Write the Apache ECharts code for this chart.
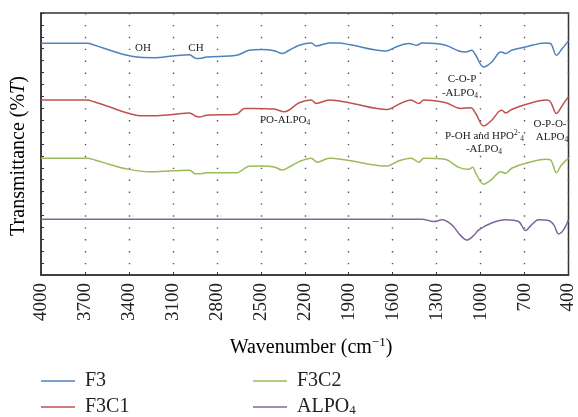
<!DOCTYPE html>
<html>
<head>
<meta charset="utf-8">
<script src="https://cdn.jsdelivr.net/npm/echarts@6/dist/echarts.min.js"></script>
<style>
html,body{margin:0;padding:0;background:#fff;}
#chart{width:578px;height:417px;}
</style>
</head>
<body>
<div id="chart"></div>
<script>
// ---- data (wavenumber in cm^-1, transmittance in arbitrary offset units) ----
var xTicks = [4000, 3700, 3400, 3100, 2800, 2500, 2200, 1900, 1600, 1300, 1000, 700, 400];

var f3Wn = [4000,3687,3633,3530,3428,3326,3224,3102,2986,2945,2918,2870,2666,2578,2496,2408,2353,2306,2238,2156,2122,2033,1965,1897,1646,1577,1489,1435,1400,1305,1237,1149,1101,1060,1033,979,924,877,856,829,788,693,557,523,482,448,400];
var f3T  = [19.46,19.46,19.29,18.87,18.49,18.28,18.25,18.39,18.49,18.19,18.17,18.30,18.45,18.87,18.93,18.83,18.59,18.87,19.29,19.49,19.23,19.49,19.49,19.35,18.81,19.15,19.44,19.29,19.49,19.44,19.29,18.81,18.73,18.87,18.45,17.46,17.88,18.64,18.73,18.59,18.87,19.15,19.49,19.44,18.45,18.93,19.66];

var f3c1Wn = [4000,3687,3633,3530,3428,3326,3224,3102,2986,2945,2918,2870,2666,2612,2544,2408,2340,2238,2156,2122,2033,1897,1639,1557,1475,1421,1387,1237,1135,1067,1033,979,924,877,856,829,788,693,550,523,482,448,414,400];
var f3c1T  = [14.69,14.69,14.52,14.10,13.67,13.38,13.38,13.48,13.61,13.33,13.27,13.42,13.50,13.99,13.99,13.93,13.70,14.46,14.69,14.41,14.69,14.46,13.90,14.35,14.69,14.41,14.69,14.46,13.99,14.04,13.56,12.51,13.00,13.70,13.84,13.61,13.90,14.32,14.69,14.54,13.56,14.12,14.75,14.92];

var f3c2Wn = [4000,3687,3633,3530,3428,3258,3102,2986,2945,2918,2870,2666,2578,2496,2408,2353,2306,2238,2156,2115,2033,1918,1639,1557,1475,1421,1387,1244,1149,1081,1053,1033,979,924,863,829,788,693,557,523,482,448,400];
var f3c2T  = [9.81,9.81,9.66,9.28,8.94,8.67,8.75,8.79,8.50,8.50,8.59,8.59,9.13,9.15,9.07,8.82,9.07,9.52,9.81,9.47,9.81,9.66,9.15,9.60,9.81,9.47,9.81,9.72,9.04,8.87,9.04,8.54,7.63,8.03,8.67,8.54,8.96,9.38,9.72,9.66,8.59,9.24,9.81];

var alpo4Wn = [4000,3500,3000,2500,2000,1600,1400,1319,1264,1196,1140,1094,1050,1012,924,829,741,693,652,604,536,500,468,434,400];
var alpo4T  = [4.69,4.69,4.69,4.68,4.69,4.69,4.69,4.49,4.63,4.21,3.37,2.94,3.28,3.79,4.36,4.63,4.49,3.73,4.21,4.63,4.58,4.21,3.45,3.79,4.63];

var seriesNames = ['F3', 'F3C1', 'F3C2', 'ALPO4'];
var seriesColors = ['#4F81BD', '#C0504D', '#9BBB59', '#8064A2'];

function zip(a, b) { return a.map(function (v, i) { return [v, b[i]]; }); }
var allData = [zip(f3Wn, f3T), zip(f3c1Wn, f3c1T), zip(f3c2Wn, f3c2T), zip(alpo4Wn, alpo4T)];

var SERIF = '"Liberation Serif", "DejaVu Serif", serif';
var TXT = '#222';

var annRich = {
  a: { fontFamily: SERIF, fontSize: 11, color: TXT, lineHeight: 14 },
  sub: { fontFamily: SERIF, fontSize: 7.5, color: TXT, lineHeight: 8, verticalAlign: 'bottom' },
  sup: { fontFamily: SERIF, fontSize: 7.5, color: TXT, lineHeight: 8, verticalAlign: 'top' }
};
function ann(text, x, y, align) {
  return {
    type: 'text', x: x, y: y, z: 10,
    style: { text: text, rich: annRich, align: align || 'center', verticalAlign: 'middle',
             font: '11px ' + SERIF, fill: TXT }
  };
}

var legendBase = {
  orient: 'vertical', top: 371, height: 46, padding: 0, itemWidth: 34, itemHeight: 1.6, itemGap: 6, icon: 'rect',
  formatter: function (n) { return n === 'ALPO4' ? '{n|ALPO}{s|4}' : '{n|' + n + '}'; },
  textStyle: { fontFamily: SERIF, fontSize: 20, color: TXT, padding: [0, 0, 0, 5],
    rich: { n: { fontFamily: SERIF, fontSize: 20, color: TXT, lineHeight: 20 },
            s: { fontFamily: SERIF, fontSize: 13, color: TXT, lineHeight: 9, verticalAlign: 'bottom' } } }
};

var chart = echarts.init(document.getElementById('chart'));
var option = {
  animation: false,
  backgroundColor: '#fff',
  grid: { left: 41, right: 8, top: 13, bottom: 142, show: true, borderColor: '#333', borderWidth: 1.5, backgroundColor: 'transparent' },
  xAxis: {
    type: 'value', min: 400, max: 4000, interval: 300, inverse: true,
    axisLine: { show: true, lineStyle: { color: '#333', width: 1.5 } },
    axisTick: { show: true, inside: true, length: 3, lineStyle: { color: '#333' } },
    axisLabel: { rotate: 90, fontFamily: SERIF, fontSize: 19, color: TXT, margin: 8,
                 formatter: function (v) { return String(v); } },
    splitLine: { show: true, lineStyle: { color: '#555', width: 1.4, type: [1.4, 10.5] } }
  },
  yAxis: {
    type: 'value', min: 0, max: 22, interval: 1,
    axisLine: { show: true, lineStyle: { color: '#333', width: 1.5 } },
    axisTick: { show: true, inside: true, length: 3, lineStyle: { color: '#333' } },
    axisLabel: { show: false },
    splitLine: { show: false }
  },
  legend: [
    Object.assign({}, legendBase, { data: ['F3', 'F3C1'], left: 41 }),
    Object.assign({}, legendBase, { data: ['F3C2', 'ALPO4'], left: 253 })
  ],
  series: seriesNames.map(function (n, i) {
    return { name: n, type: 'line', data: allData[i], symbol: 'none', smooth: 0.35,
             lineStyle: { color: seriesColors[i], width: 1.5 }, itemStyle: { color: seriesColors[i] } };
  }),
  graphic: [
    { type: 'text', x: 311, y: 348, style: {
        text: '{a|Wavenumber (cm}{s|−1}{a|)}', align: 'center', verticalAlign: 'middle',
        rich: { a: { fontFamily: SERIF, fontSize: 20, color: TXT, lineHeight: 24 },
                s: { fontFamily: SERIF, fontSize: 13, color: TXT, lineHeight: 12, verticalAlign: 'top' } } } },
    { type: 'text', x: 19, y: 156, rotation: Math.PI / 2, style: {
        text: '{a|Transmittance (%}{i|T}{a|)}', align: 'center', verticalAlign: 'middle',
        rich: { a: { fontFamily: SERIF, fontSize: 20, color: TXT },
                i: { fontFamily: SERIF, fontSize: 20, color: TXT, fontStyle: 'italic' } } } },
    ann('{a|OH}', 143, 48),
    ann('{a|CH}', 196, 48),
    ann('{a|PO-ALPO}{sub|4}', 260, 120, 'left'),
    ann('{a|C-O-P}', 462, 79),
    ann('{a|-ALPO}{sub|4}', 460, 93),
    ann('{a|P-OH and HPO}{sup|2-}{sub|4}', 445, 136, 'left'),
    ann('{a|-ALPO}{sub|4}', 484, 149),
    ann('{a|O-P-O-}', 550, 124),
    ann('{a|ALPO}{sub|4}', 552, 137)
  ]
};
chart.setOption(option);
</script>
</body>
</html>
